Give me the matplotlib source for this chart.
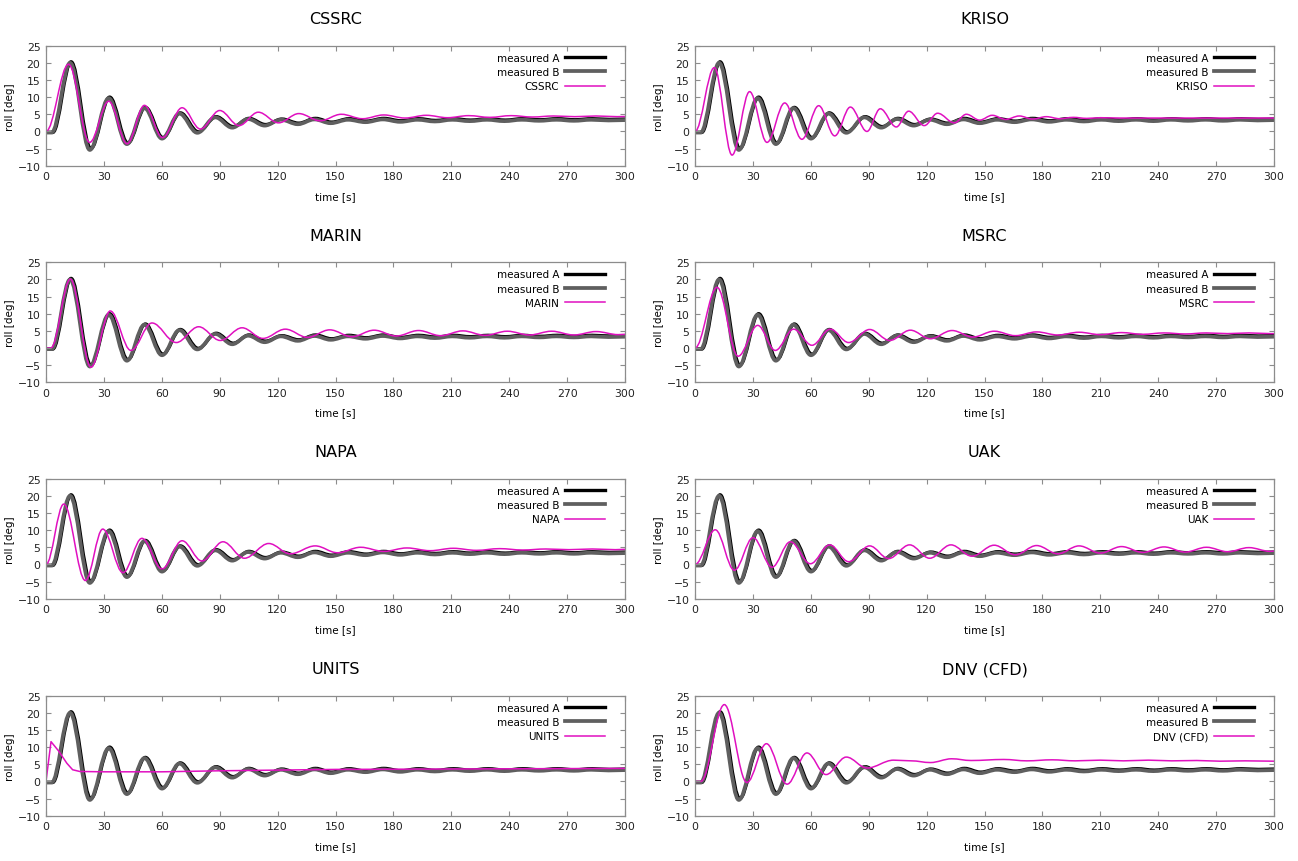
import matplotlib
matplotlib.use('Agg')
import matplotlib.pyplot as plt
from matplotlib.path import Path
from matplotlib.patches import PathPatch
from matplotlib.lines import Line2D

plt.rcParams['font.family'] = ['DejaVu Sans']

# measured roll decay, turning points (time [s], roll [deg])
meas_a_t = [0, 3.5, 13.0, 23.2, 33.0, 42.4, 51.5, 60.6, 69.6, 78.9, 88.2, 97.0, 105.2, 113.8,
            122.2, 131.0, 139.6, 148.0, 157, 166, 175, 184, 193, 202, 211, 220, 229, 238,
            247, 256, 265, 274, 283, 292, 300]
meas_a_v = [-0.3, -0.3, 20.3, -5.0, 10.0, -3.4, 7.0, -1.8, 5.4, -0.1, 4.3, 1.4, 3.8, 2.0,
            3.6, 2.4, 3.8, 2.7, 3.7, 3.0, 3.8, 3.1, 3.7, 3.2, 3.7, 3.3, 3.7, 3.3,
            3.7, 3.4, 3.7, 3.4, 3.7, 3.5, 3.6]
meas_b_t = [0, 3.0, 12.5, 22.7, 32.5, 41.9, 51.0, 60.1, 69.1, 78.4, 87.7, 96.5, 104.7, 113.3,
            121.7, 130.5, 139.1, 147.5, 156.5, 165.5, 174.5, 183.5, 192.5, 201.5, 210.5, 219.5,
            228.5, 237.5, 246.5, 255.5, 264.5, 273.5, 282.5, 291.5, 300]
meas_b_v = [-0.3, -0.3, 20.0, -5.4, 9.7, -3.7, 6.8, -2.1, 5.2, -0.4, 4.1, 1.1, 3.6, 1.7,
            3.4, 2.1, 3.5, 2.4, 3.4, 2.7, 3.5, 2.8, 3.4, 2.9, 3.4, 3.0,
            3.4, 3.0, 3.4, 3.1, 3.4, 3.1, 3.4, 3.2, 3.3]

# participants' simulations
cssrc_t = [0, 11.7, 22.6, 32.5, 42.0, 51.0, 60.4, 70.5, 80.0, 90.0, 100.0, 110.0, 120.5, 131.0,
           142.0, 153.0, 164.0, 175.0, 186.0, 197.0, 208.0, 219.0, 230.0, 241.0, 252.0, 263.0,
           274.0, 285.0, 296.0, 300]
cssrc_v = [0, 19.6, -3.2, 8.8, -3.6, 7.6, -1.8, 6.9, 0.7, 6.1, 1.7, 5.6, 2.5, 5.2,
           3.1, 5.0, 3.7, 4.8, 3.9, 4.7, 4.0, 4.6, 4.1, 4.6, 4.2, 4.5,
           4.3, 4.5, 4.3, 4.35]
kriso_t = [0, 10.0, 19.2, 28.3, 37.3, 46.5, 55.4, 64.1, 72.4, 80.5, 89.1, 96.0, 104.3, 110.7,
           118.8, 125.7, 134.4, 140.6, 147.5, 154.0, 161, 168, 175, 182, 189, 196, 203, 210,
           220, 300]
kriso_v = [0, 18.6, -6.9, 11.6, -3.2, 8.3, -2.3, 7.5, -1.3, 7.1, 0.0, 6.6, 1.3, 5.9,
           1.7, 5.3, 2.5, 5.0, 3.3, 4.7, 3.5, 4.5, 3.6, 4.3, 3.7, 4.1, 3.8, 4.0,
           3.9, 3.9]
marin_t = [0, 2.5, 12.6, 23.3, 33.3, 44.0, 54.9, 67.5, 79.1, 90.3, 101.6, 112.4, 124.0, 135.5,
           147, 158.5, 170, 181.5, 193, 204.5, 216, 227.5, 239, 250.5, 262, 273.5, 285,
           296.5, 300]
marin_v = [0, 0, 20.1, -5.6, 10.8, -0.7, 7.3, 1.6, 6.2, 2.2, 5.9, 2.8, 5.5, 3.1,
           5.3, 3.3, 5.2, 3.5, 5.1, 3.6, 5.0, 3.7, 4.9, 3.8, 4.9, 3.8, 4.8,
           3.9, 4.0]
msrc_t = [0, 11.4, 22.3, 32.5, 41.6, 51.1, 60.6, 70.1, 79.6, 90.5, 100.9, 111.6, 121.9, 133.2,
          144, 155, 166, 177, 188, 199, 210, 221, 232, 243, 254, 265, 276, 287, 298, 300]
msrc_v = [0, 17.7, -2.4, 6.6, -0.7, 5.5, 0.8, 5.5, 1.6, 5.4, 2.2, 5.2, 2.7, 5.1,
          3.2, 4.9, 3.6, 4.7, 3.8, 4.6, 3.9, 4.5, 4.0, 4.4, 4.1, 4.4, 4.2, 4.4, 4.2, 4.2]
napa_t = [0, 9.2, 20.4, 29.4, 39.9, 49.7, 60.1, 70.5, 80.8, 91.7, 102.8, 115.4, 126.6, 139.5,
          151, 163, 175, 187, 199, 211, 223, 235, 247, 259, 271, 283, 295, 300]
napa_v = [0, 17.6, -4.7, 10.3, -2.4, 7.6, -1.3, 6.9, 1.0, 6.6, 1.8, 6.1, 3.1, 5.4,
          3.4, 5.0, 3.8, 4.8, 4.0, 4.7, 4.1, 4.6, 4.2, 4.5, 4.3, 4.5, 4.3, 4.4]
uak_t = [0, 10.5, 20.4, 30.1, 39.9, 49.4, 59.8, 69.8, 79.6, 90.5, 100.3, 111.2, 121.6, 132.6,
         143.5, 155, 166, 177, 188, 199, 210, 221, 232, 243, 254, 265, 276, 287, 298, 300]
uak_v = [0, 10.1, -1.7, 7.8, -0.8, 6.6, 0.2, 5.7, 0.8, 5.4, 1.7, 5.7, 1.8, 5.7,
         2.4, 5.6, 2.8, 5.5, 3.1, 5.4, 3.3, 5.2, 3.5, 5.1, 3.6, 5.0, 3.7, 4.9, 3.8, 3.9]
units_t = [0, 2.6, 6.5, 10.8, 13.8, 17.5, 30, 60, 90, 120, 150, 200, 250, 300]
units_v = [0, 11.6, 8.9, 5.3, 3.4, 2.9, 2.8, 2.8, 3.1, 3.3, 3.5, 3.6, 3.7, 3.8]
dnv_t = [0, 3.0, 15.2, 26.9, 37.0, 47.7, 58.0, 67.9, 78.4, 89.1, 102.9, 112, 122, 133, 143,
         160, 172, 185, 197, 210, 222, 235, 247, 260, 272, 285, 300]
dnv_v = [0, 0, 22.4, -0.3, 11.0, -0.8, 8.3, 2.0, 7.1, 3.9, 6.2, 6.0, 5.5, 6.6, 6.1,
         6.4, 6.0, 6.3, 6.0, 6.2, 6.0, 6.2, 6.0, 6.1, 5.9, 6.0, 5.9]

names = ['CSSRC', 'KRISO', 'MARIN', 'MSRC', 'NAPA', 'UAK', 'UNITS', 'DNV (CFD)']
sims = [(cssrc_t, cssrc_v), (kriso_t, kriso_v), (marin_t, marin_v), (msrc_t, msrc_v),
        (napa_t, napa_v), (uak_t, uak_v), (units_t, units_v), (dnv_t, dnv_v)]
smooth = [True, True, True, True, True, True, False, True]

col_a = 'black'
col_b = '#5f5f5f'
col_sim = '#e010c0'
frame_col = '#8c8c8c'


def swing(t, v, k=0.36):
    # bezier segments with flat tangents at every turning point
    verts = [(t[0], v[0])]
    codes = [Path.MOVETO]
    for i in range(1, len(t)):
        dt = t[i] - t[i - 1]
        verts += [(t[i - 1] + k * dt, v[i - 1]), (t[i] - k * dt, v[i]), (t[i], v[i])]
        codes += [Path.CURVE4] * 3
    return Path(verts, codes)


fig = plt.figure(figsize=(12.98, 8.62), dpi=100)
W, H = 1298, 862
lefts = [46, 695]
tops = [46.7, 263.3, 479.7, 696.7]
pw, ph = 579, 120

for i, name in enumerate(names):
    r, c = divmod(i, 2)
    ax = fig.add_axes([lefts[c] / W, 1 - (tops[r] + ph) / H, pw / W, ph / H])

    ax.add_patch(PathPatch(swing(meas_a_t, meas_a_v), fill=False, edgecolor=col_a, lw=2.4,
                           capstyle='round', joinstyle='round'))
    ax.add_patch(PathPatch(swing(meas_b_t, meas_b_v), fill=False, edgecolor=col_b, lw=2.7,
                           capstyle='round', joinstyle='round'))
    st, sv = sims[i]
    if smooth[i]:
        ax.add_patch(PathPatch(swing(st, sv), fill=False, edgecolor=col_sim, lw=1.1))
    else:
        ax.plot(st, sv, color=col_sim, lw=1.1)

    ax.set_xlim(0, 300)
    ax.set_ylim(-10, 25)
    ax.set_xticks(range(0, 301, 30))
    ax.set_yticks(range(-10, 26, 5))
    ax.tick_params(direction='in', top=True, right=True, length=3.5, width=0.8,
                   color=frame_col, labelsize=7.8, labelcolor='#222222', pad=4)
    for s in ax.spines.values():
        s.set_color(frame_col)
        s.set_linewidth(0.9)

    ax.set_title(name, fontsize=11.5, pad=16)
    ax.set_xlabel('time [s]', fontsize=7.5, labelpad=7)
    ax.set_ylabel('roll [deg]', fontsize=7.5, labelpad=2)

    handles = [Line2D([], [], color=col_a, lw=2.4), Line2D([], [], color=col_b, lw=2.7),
               Line2D([], [], color=col_sim, lw=1.1)]
    ax.legend(handles, ['measured A', 'measured B', name], loc='upper right',
              bbox_to_anchor=(1 - 20 / pw, 1 - 7 / ph), frameon=False, markerfirst=False,
              fontsize=7.5, handlelength=3.8, handletextpad=0.6, labelspacing=0.42,
              borderpad=0, borderaxespad=0)

fig.savefig('out.png', dpi=100)
